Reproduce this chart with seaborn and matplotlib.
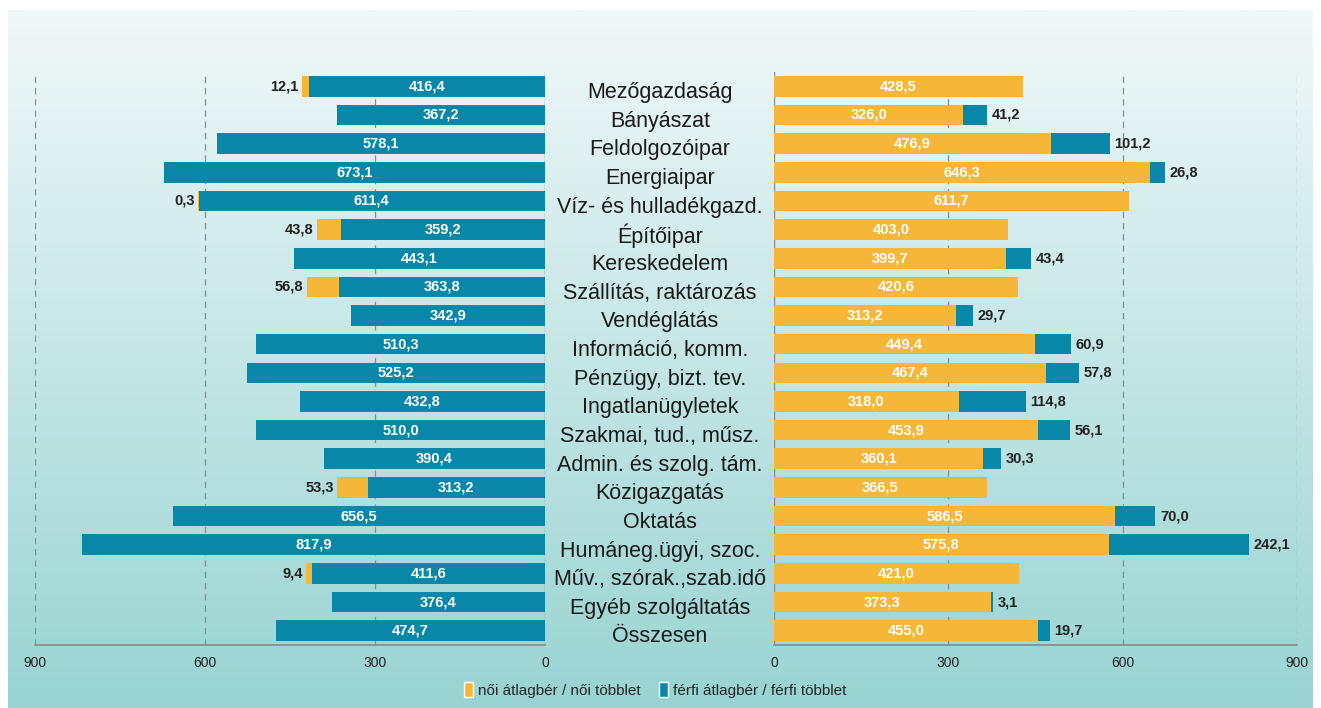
import numpy as np
import pandas as pd
import matplotlib
matplotlib.use("Agg")
import matplotlib.pyplot as plt
import matplotlib.transforms as mtransforms
from matplotlib.patches import Patch
import seaborn as sns

# ----------------------------------------------------------
# Data (ezer Ft)
# ----------------------------------------------------------

categories = [
    "Mezőgazdaság", "Bányászat", "Feldolgozóipar", "Energiaipar",
    "Víz- és hulladékgazd.", "Építőipar", "Kereskedelem",
    "Szállítás, raktározás", "Vendéglátás", "Információ, komm.",
    "Pénzügy, bizt. tev.", "Ingatlanügyletek", "Szakmai, tud., műsz.",
    "Admin. és szolg. tám.", "Közigazgatás", "Oktatás",
    "Humáneg.ügyi, szoc.", "Műv., szórak.,szab.idő", "Egyéb szolgáltatás",
    "Összesen",
]
male_avg = [416.4, 367.2, 578.1, 673.1, 611.4, 359.2, 443.1, 363.8, 342.9, 510.3,
            525.2, 432.8, 510.0, 390.4, 313.2, 656.5, 817.9, 411.6, 376.4, 474.7]
female_avg = [428.5, 326.0, 476.9, 646.3, 611.7, 403.0, 399.7, 420.6, 313.2, 449.4,
              467.4, 318.0, 453.9, 360.1, 366.5, 586.5, 575.8, 421.0, 373.3, 455.0]
female_surplus = [12.1, 0, 0, 0, 0.3, 43.8, 0, 56.8, 0, 0,
                  0, 0, 0, 0, 53.3, 0, 0, 9.4, 0, 0]
male_surplus = [0, 41.2, 101.2, 26.8, 0, 0, 43.4, 0, 29.7, 60.9,
                57.8, 114.8, 56.1, 30.3, 0, 70.0, 242.1, 0, 3.1, 19.7]
ticks = [0, 300, 600, 900]

df = pd.DataFrame({
    "cat": categories,
    "male": male_avg,
    "female": female_avg,
    "f_plus": female_surplus,
    "m_plus": male_surplus,
})
df["left_total"] = df["male"] + df["f_plus"]
df["right_total"] = df["female"] + df["m_plus"]

ORANGE = "#F6B637"
BLUE = "#0887A8"
GRID = "#8a8a8a"

def fmt(v):
    return f"{v:.1f}".replace(".", ",")

sns.set_style("white")
plt.rcParams["font.family"] = ["Liberation Sans", "DejaVu Sans"]
NARROW = ["Liberation Sans Narrow", "Liberation Sans", "DejaVu Sans"]

fig = plt.figure(figsize=(13.21, 7.08), dpi=100)
fig.patch.set_facecolor("white")

# ----------------------------------------------------------
# Background gradient
# ----------------------------------------------------------

bg = fig.add_axes([8 / 1321, 0, 1 - 16 / 1321, 1 - 10 / 708], zorder=-10)
top = np.array(matplotlib.colors.to_rgb("#f1f8f9"))
bot = np.array(matplotlib.colors.to_rgb("#98d4d2"))
t = np.linspace(0, 1, 256)[:, None]
grad = (top[None, :] * (1 - t) + bot[None, :] * t)[:, None, :]
bg.imshow(grad, aspect="auto", extent=[0, 1, 0, 1])
bg.set_axis_off()

# ----------------------------------------------------------
# Axes
# ----------------------------------------------------------

ax_l = fig.add_axes([35 / 1321, 1 - 645 / 708, 510 / 1321, 573 / 708])
ax_r = fig.add_axes([774 / 1321, 1 - 645 / 708, 523 / 1321, 573 / 708])

for ax in (ax_l, ax_r):
    ax.set_facecolor("none")
    for x in ticks[1:]:
        ax.axvline(x, color=GRID, lw=0.9, ls=(0, (5, 4)), zorder=0)
    ax.axvline(0, color=GRID, lw=1.0, zorder=0)

bar_kw = dict(orient="h", width=0.72, saturation=1, linewidth=0, edgecolor="none")

# Left: men's average + women's surplus
sns.barplot(data=df, y="cat", x="left_total", color=ORANGE, ax=ax_l, zorder=2, **bar_kw)
sns.barplot(data=df, y="cat", x="male", color=BLUE, ax=ax_l, zorder=3, **bar_kw)

# Right: women's average + men's surplus
sns.barplot(data=df, y="cat", x="right_total", color=BLUE, ax=ax_r, zorder=2, **bar_kw)
sns.barplot(data=df, y="cat", x="female", color=ORANGE, ax=ax_r, zorder=3, **bar_kw)

for ax in (ax_l, ax_r):
    ax.set_xlim(0, 900)
    ax.set_ylim(len(categories) - 0.5, -0.5)
    ax.set_xticks(ticks)
    ax.set_xticklabels([str(v) for v in ticks], fontsize=10, family=NARROW)
    ax.tick_params(axis="x", length=0, pad=8, colors="#222222")
    ax.set_yticks([])
    ax.set_xlabel("")
    ax.set_ylabel("")
    for s in ("top", "left", "right"):
        ax.spines[s].set_visible(False)
    ax.spines["bottom"].set_color(GRID)
    ax.spines["bottom"].set_linewidth(1.2)
ax_l.invert_xaxis()

# ----------------------------------------------------------
# Value labels
# ----------------------------------------------------------

for i, row in df.iterrows():
    ax_l.text(row["male"] / 2, i, fmt(row["male"]), color="white", fontsize=10.5,
              fontweight="bold", ha="center", va="center", family=NARROW, zorder=5)
    if row["f_plus"] > 0:
        ax_l.text(row["left_total"] + 6, i, fmt(row["f_plus"]), color="#222222",
                  fontsize=10.5, fontweight="bold", ha="right", va="center",
                  family=NARROW, zorder=5)
    ax_r.text(row["female"] / 2, i, fmt(row["female"]), color="white", fontsize=10.5,
              fontweight="bold", ha="center", va="center", family=NARROW, zorder=5)
    if row["m_plus"] > 0:
        ax_r.text(row["right_total"] + 8, i, fmt(row["m_plus"]), color="#222222",
                  fontsize=10.5, fontweight="bold", ha="left", va="center",
                  family=NARROW, zorder=5)

# Category names in the middle
trans = mtransforms.blended_transform_factory(fig.transFigure, ax_r.transData)
for i, name in enumerate(categories):
    fig.text(660 / 1321, i + 0.22, name, transform=trans, ha="center", va="center",
             fontsize=15.5, color="#1a1a1a")

# ----------------------------------------------------------
# Legend
# ----------------------------------------------------------

handles = [Patch(facecolor=ORANGE, label="női átlagbér / női többlet"),
           Patch(facecolor=BLUE, label="férfi átlagbér / férfi többlet")]
fig.legend(handles=handles, loc="center", bbox_to_anchor=(655 / 1321, 1 - 690 / 708),
           ncol=2, frameon=False, prop={"family": NARROW, "size": 11},
           handlelength=0.6, handleheight=1.1, handletextpad=0.3, columnspacing=1.2)

fig.savefig("out.png", dpi=100, facecolor=fig.get_facecolor())
